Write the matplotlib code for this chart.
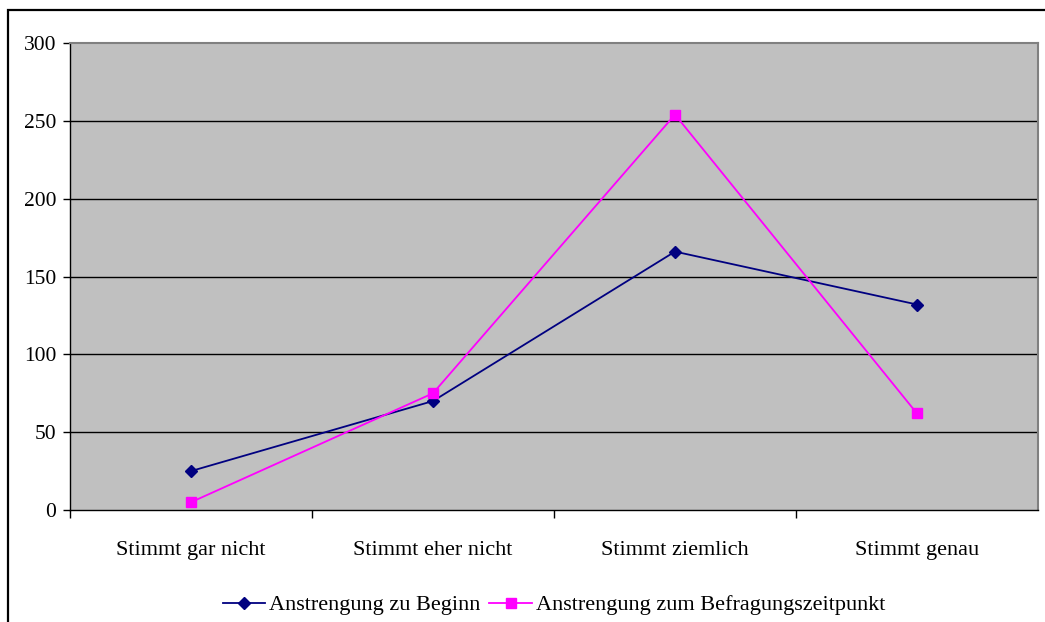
import matplotlib
matplotlib.use("Agg")
import matplotlib.pyplot as plt
from matplotlib.patches import Rectangle
from matplotlib.lines import Line2D

categories = ["Stimmt gar nicht", "Stimmt eher nicht", "Stimmt ziemlich", "Stimmt genau"]
beginn = [25, 70, 166, 132]
zeitpunkt = [5, 75, 254, 62]
series_names = ["Anstrengung zu Beginn", "Anstrengung zum Befragungszeitpunkt"]
yticks = [0, 50, 100, 150, 200, 250, 300]

plt.rcParams['font.family'] = ['Liberation Serif', 'DejaVu Serif']

W, H = 1045, 622
fig = plt.figure(figsize=(W/100, H/100), dpi=100)
ax = fig.add_axes([70/W, (H-510)/H, (1038-70)/W, (510-43)/H])
ax.set_facecolor('#C0C0C0')

x = list(range(len(categories)))
ax.plot(x, beginn, color='#000080', lw=1.3, marker='D', ms=6.5, label=series_names[0], zorder=3)
ax.plot(x, zeitpunkt, color='#FF00FF', lw=1.3, marker='s', ms=6.8, label=series_names[1], zorder=3)

ax.set_xlim(-0.5, len(categories)-0.5)
ax.set_ylim(0, 300)
ax.set_yticks(yticks)
ax.set_yticklabels([str(v) for v in yticks], fontsize=15.5)
for v in yticks[1:-1]:
    ax.axhline(v, color='black', lw=1.0, zorder=1)

ax.set_xticks([i + 0.5 for i in range(len(categories)-1)] + [-0.5])
ax.set_xticklabels([])
ax.set_xticks(x, minor=True)
ax.set_xticklabels(categories, minor=True, fontsize=16)
ax.tick_params(axis='x', which='minor', length=0, pad=22)
ax.tick_params(axis='x', which='major', length=6, width=1, direction='out', color='black')
ax.tick_params(axis='y', length=5, width=1, direction='out', pad=5)

for s in ['left', 'bottom']:
    ax.spines[s].set_color('black')
    ax.spines[s].set_linewidth(1.0)
for s in ['top', 'right']:
    ax.spines[s].set_color('#808080')
    ax.spines[s].set_linewidth(1.5)

# outer chart frame
fig.patches.append(Rectangle((8/W, -0.05), 1.1, 1 - 10/H + 0.05, transform=fig.transFigure,
                             fill=False, edgecolor='black', lw=1.6, zorder=0))

handles = [Line2D([], [], color='#000080', lw=1.3, marker='D', ms=6.5),
           Line2D([], [], color='#FF00FF', lw=1.3, marker='s', ms=6.8)]
fig.legend(handles, series_names, loc='center', bbox_to_anchor=(554/W, 1 - 605/H), ncol=2,
           frameon=False, fontsize=16, handlelength=1.9, handletextpad=0.2, columnspacing=0.4)

fig.savefig("out.png", dpi=100)
